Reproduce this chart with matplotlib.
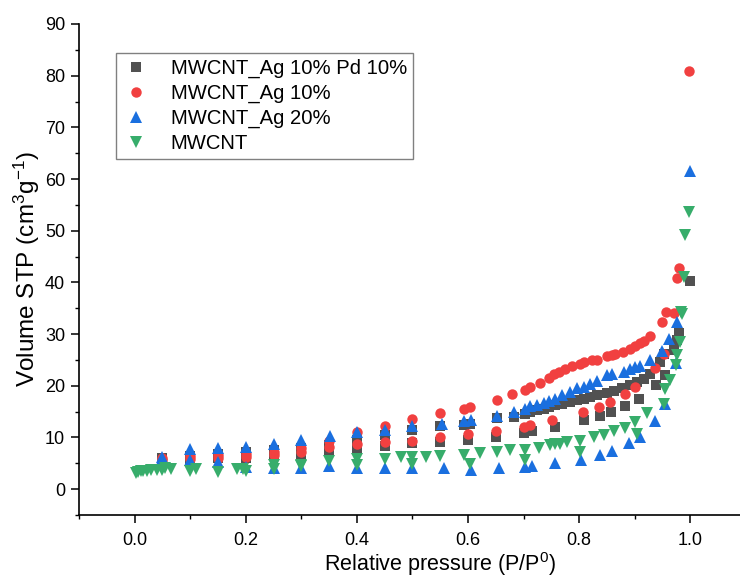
import matplotlib
matplotlib.use("Agg")
import matplotlib.pyplot as plt
from matplotlib.ticker import MultipleLocator

plt.rcParams["font.family"] = ["Liberation Sans", "DejaVu Sans"]
plt.rcParams["mathtext.default"] = "regular"

# MWCNT_Ag 10% Pd 10%
gray_ads_x = [0.05, 0.10, 0.15, 0.20, 0.25, 0.30, 0.35, 0.40, 0.45, 0.50, 0.55, 0.60, 0.65,
              0.70, 0.715, 0.757, 0.808, 0.838, 0.858, 0.883, 0.908, 0.938, 0.955, 1.0]
gray_ads_y = [5.6, 5.8, 6.0, 6.1, 6.4, 6.8, 7.3, 7.9, 8.4, 8.9, 9.2, 9.5, 10.0,
              10.9, 11.2, 12.0, 13.3, 14.1, 14.9, 16.0, 17.4, 20.1, 22.0, 40.3]
gray_des_x = [0.979, 0.976, 0.970, 0.952, 0.946, 0.928, 0.916, 0.904, 0.892, 0.877, 0.862,
              0.850, 0.832, 0.820, 0.808, 0.796, 0.784, 0.769, 0.757, 0.745, 0.736, 0.724,
              0.712, 0.703, 0.682, 0.652, 0.604, 0.592, 0.55, 0.50, 0.45, 0.40, 0.35, 0.30,
              0.25, 0.20, 0.15, 0.10, 0.05]
gray_des_y = [30.2, 28.8, 26.9, 26.2, 24.6, 22.2, 21.4, 20.7, 20.1, 19.5, 19.0,
              18.6, 18.2, 17.8, 17.5, 17.2, 16.9, 16.5, 16.2, 15.9, 15.6, 15.3,
              14.9, 14.6, 14.0, 13.8, 12.7, 12.5, 12.2, 11.5, 10.5, 9.5, 8.5, 8.0,
              7.5, 7.1, 6.8, 6.5, 6.0]

# MWCNT_Ag 10%
red_ads_x = [0.05, 0.10, 0.15, 0.20, 0.25, 0.30, 0.35, 0.40, 0.45, 0.50, 0.55, 0.60, 0.65,
             0.70, 0.712, 0.751, 0.807, 0.835, 0.856, 0.883, 0.901, 0.937, 0.952, 0.976,
             0.979, 0.997]
red_ads_y = [5.7, 5.9, 6.1, 6.2, 6.6, 7.2, 8.1, 8.8, 9.1, 9.4, 10.0, 10.6, 11.2,
             12.0, 12.5, 13.3, 14.9, 15.9, 16.9, 18.4, 19.7, 23.5, 26.2, 40.9,
             42.8, 80.9]
red_des_x = [0.971, 0.957, 0.949, 0.928, 0.916, 0.910, 0.901, 0.892, 0.879, 0.865, 0.859,
             0.850, 0.832, 0.823, 0.809, 0.802, 0.787, 0.775, 0.763, 0.754, 0.745, 0.730,
             0.712, 0.703, 0.680, 0.652, 0.604, 0.592, 0.55, 0.50, 0.45, 0.40, 0.35, 0.30,
             0.25, 0.20, 0.15, 0.10, 0.05]
red_des_y = [34.0, 34.3, 32.4, 29.6, 28.7, 28.3, 27.7, 27.2, 26.6, 26.2, 26.0,
             25.7, 24.9, 24.9, 24.6, 24.3, 23.8, 23.2, 22.7, 22.2, 21.6, 20.5,
             19.8, 19.1, 18.5, 17.2, 15.9, 15.6, 14.7, 13.5, 12.2, 11.1, 9.4, 8.0,
             7.2, 6.8, 6.6, 6.5, 6.0]

# MWCNT_Ag 20%
blue_ads_x = [0.05, 0.10, 0.15, 0.20, 0.25, 0.30, 0.35, 0.40, 0.45, 0.50, 0.556, 0.605,
              0.655, 0.703, 0.715, 0.757, 0.803, 0.838, 0.859, 0.889, 0.910, 0.937, 0.955,
              0.975, 0.999]
blue_ads_y = [5.8, 5.6, 5.2, 4.3, 4.0, 4.0, 4.4, 4.1, 4.1, 4.0, 4.0, 3.8,
              4.0, 4.3, 4.5, 5.1, 5.7, 6.7, 7.4, 8.9, 10.1, 13.1, 16.4,
              24.5, 61.6]
blue_des_x = [0.976, 0.961, 0.949, 0.927, 0.910, 0.901, 0.892, 0.880, 0.859, 0.850, 0.832,
              0.820, 0.808, 0.796, 0.784, 0.769, 0.757, 0.745, 0.736, 0.724, 0.712, 0.703,
              0.682, 0.652, 0.605, 0.592, 0.553, 0.50, 0.45, 0.40, 0.351, 0.30, 0.25, 0.20,
              0.15, 0.10, 0.05]
blue_des_y = [32.3, 29.1, 26.7, 24.9, 23.9, 23.6, 23.2, 22.7, 22.2, 22.0, 20.9,
              20.4, 19.8, 19.5, 18.8, 18.2, 17.5, 17.0, 16.7, 16.2, 16.0, 15.6,
              14.9, 14.2, 13.4, 13.2, 12.7, 12.2, 11.5, 11.1, 10.2, 9.5, 8.8, 8.1,
              8.0, 7.8, 6.2]

# MWCNT
green_ads_x = [0.003, 0.007, 0.011, 0.016, 0.022, 0.03, 0.04, 0.05, 0.10, 0.15, 0.20, 0.25,
               0.30, 0.35, 0.40, 0.50, 0.604, 0.703, 0.802, 0.904, 0.952, 0.974, 0.991, 0.997]
green_ads_y = [3.2, 3.4, 3.5, 3.6, 3.6, 3.7, 3.7, 3.8, 3.5, 3.4, 3.5, 3.9,
               4.4, 5.5, 4.6, 4.9, 4.9, 5.6, 7.2, 10.7, 16.5, 24.0, 49.2, 53.7]
green_des_x = [0.988, 0.985, 0.983, 0.982, 0.976, 0.963, 0.955, 0.922, 0.901, 0.883, 0.862,
               0.844, 0.826, 0.802, 0.778, 0.766, 0.757, 0.748, 0.727, 0.703, 0.676, 0.652,
               0.622, 0.592, 0.55, 0.525, 0.50, 0.48, 0.45, 0.40, 0.30, 0.25, 0.195, 0.185,
               0.11, 0.066, 0.055]
green_des_y = [41.1, 33.9, 34.3, 28.5, 25.9, 21.2, 19.3, 14.7, 13.0, 11.9, 11.2,
               10.4, 10.0, 9.4, 9.1, 8.8, 8.7, 8.5, 8.0, 7.6, 7.5, 7.2,
               6.9, 6.7, 6.5, 6.3, 6.3, 6.2, 5.9, 5.9, 4.6, 4.6, 3.9, 3.9,
               3.9, 3.9, 4.0]

series = [
    ("MWCNT_Ag 10% Pd 10%", gray_ads_x, gray_ads_y, gray_des_x, gray_des_y, "s", 6.5, "#515151"),
    ("MWCNT_Ag 10%", red_ads_x, red_ads_y, red_des_x, red_des_y, "o", 7.5, "#F14040"),
    ("MWCNT_Ag 20%", blue_ads_x, blue_ads_y, blue_des_x, blue_des_y, "^", 8.0, "#1A6FDF"),
    ("MWCNT", green_ads_x, green_ads_y, green_des_x, green_des_y, "v", 8.0, "#37AD6B"),
]

fig = plt.figure(figsize=(7.4, 5.78), dpi=100)
# the x axis runs on past the right edge of the picture (to 1.2), as in the source
ax = fig.add_axes([79 / 740, 63 / 578, 722.5 / 740, 491 / 578])

for label, ax_x, ax_y, de_x, de_y, marker, size, color in series:
    ax.plot(ax_x, ax_y, linestyle="none", marker=marker, markersize=size,
            color=color, markeredgewidth=0, label=label, clip_on=False)
    ax.plot(de_x, de_y, linestyle="none", marker=marker, markersize=size,
            color=color, markeredgewidth=0, clip_on=False)

ax.set_xlim(-0.1, 1.2)
ax.set_ylim(-5, 90)
ax.xaxis.set_minor_locator(MultipleLocator(0.1))
ax.yaxis.set_major_locator(MultipleLocator(10))
ax.yaxis.set_minor_locator(MultipleLocator(5))
ax.set_xticks([0.0, 0.2, 0.4, 0.6, 0.8, 1.0])
ax.set_xticklabels(["0.0", "0.2", "0.4", "0.6", "0.8", "1.0"])

for side in ("top", "right"):
    ax.spines[side].set_visible(False)
for side in ("left", "bottom"):
    ax.spines[side].set_linewidth(1.2)

ax.tick_params(which="major", direction="out", length=6, width=1.1, labelsize=13, pad=4)
ax.tick_params(which="minor", direction="out", length=3, width=1.0)
ax.tick_params(axis="x", which="major", pad=6)

xlab = ax.set_xlabel("Relative pressure (P/P$^{0}$)", fontsize=15.5)
xlab.set_verticalalignment("bottom")
ax.xaxis.set_label_coords(0.5, -62.5 / 491)
ax.set_ylabel("Volume STP (cm$^{3}$g$^{-1}$)", fontsize=17.5, labelpad=2)

leg = ax.legend(loc="upper left", bbox_to_anchor=(37 / 722.5, 462 / 491), borderaxespad=0,
                fontsize=14.6, frameon=True, fancybox=False, framealpha=1, edgecolor="#808080",
                handlelength=1.4, handletextpad=1.0, borderpad=0.3, labelspacing=0.28,
                numpoints=1)
leg.get_frame().set_linewidth(1.0)

fig.savefig("out.png", dpi=100)
